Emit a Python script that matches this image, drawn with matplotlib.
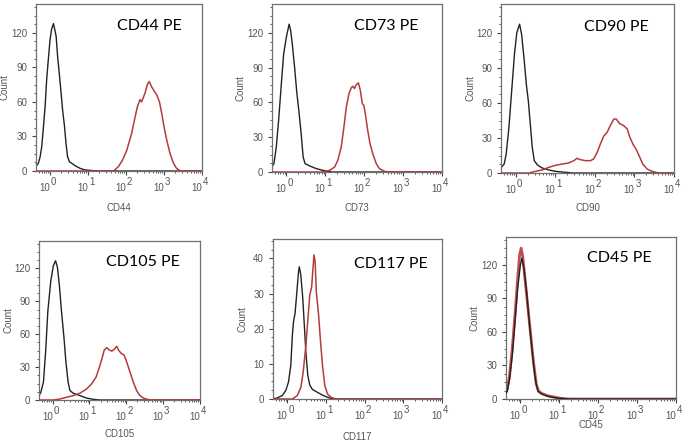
import numpy as np
import matplotlib
matplotlib.use("Agg")
import matplotlib.pyplot as plt
from matplotlib.ticker import LogLocator, MultipleLocator, NullFormatter

plt.rcParams['font.family'] = ['Liberation Sans', 'DejaVu Sans']

# marker names
markers = ['CD44', 'CD73', 'CD90', 'CD105', 'CD117', 'CD45']

# isotype control curves: log10 intensity and count
ctrl_logx = [
    [-0.35, -0.31, -0.26, -0.22, -0.18, -0.13, -0.09, -0.04, 0.0, 0.04, 0.09, 0.11, 0.16, 0.20,
     0.25, 0.29, 0.33, 0.38, 0.42, 0.46, 0.51, 0.57, 0.66, 0.79, 0.92, 1.14, 1.32, 4.0],
    [-0.38, -0.32, -0.26, -0.20, -0.13, -0.07, 0.0, 0.07, 0.11, 0.15, 0.21, 0.27, 0.32, 0.38,
     0.43, 0.48, 0.60, 0.77, 0.94, 1.11, 1.20, 4.0],
    [-0.36, -0.29, -0.24, -0.17, -0.10, -0.03, 0.03, 0.10, 0.15, 0.21, 0.27, 0.32, 0.37, 0.42,
     0.47, 0.55, 0.67, 0.84, 1.01, 1.26, 1.43, 4.0],
    [-0.37, -0.32, -0.25, -0.19, -0.13, -0.05, 0.02, 0.08, 0.13, 0.18, 0.24, 0.31, 0.36, 0.42,
     0.47, 0.56, 0.74, 0.92, 1.10, 1.29, 4.0],
    [-0.39, -0.26, -0.13, -0.04, 0.03, 0.09, 0.13, 0.16, 0.20, 0.24, 0.29, 0.31, 0.35, 0.40,
     0.44, 0.48, 0.53, 0.58, 0.65, 0.78, 0.91, 1.04, 1.17, 4.0],
    [-0.41, -0.34, -0.28, -0.21, -0.14, -0.07, 0.0, 0.04, 0.09, 0.16, 0.22, 0.29, 0.34, 0.40,
     0.45, 0.53, 0.65, 0.78, 0.95, 1.12, 1.29, 4.0],
]
ctrl_count = [
    [5, 6.5, 12.5, 21, 36, 56, 79, 99, 114, 123, 128, 125, 117, 99,
     82, 68, 53, 39, 24, 12.5, 8, 6.7, 4.6, 2.3, 0.9, 0.3, 0, 0],
    [4.3, 7.2, 21.6, 44.6, 76, 102, 116.6, 127.6, 122, 111, 90.7, 67.7, 53, 33,
     13, 7.2, 5.2, 2.9, 1.4, 0.3, 0, 0],
    [4.9, 7.7, 16, 39, 70.6, 102, 120.6, 127.7, 119, 99, 76, 62, 42, 22,
     10.6, 6.9, 4.3, 2.6, 1.4, 0.6, 0, 0],
    [4, 7, 16.3, 44, 81, 108.6, 122.5, 127, 121, 105.5, 81, 56, 34.8, 16.3,
     8.6, 6.2, 4, 1.8, 0.6, 0, 0],
    [0, 0.3, 1, 2.4, 4.8, 9.5, 18, 22, 24.3, 29.5, 36.2, 37.6, 35.2, 28.6,
     21, 13.3, 6.7, 4, 2.7, 1.9, 1.1, 0.5, 0, 0],
    [3, 7, 17.5, 38.6, 68.7, 99, 120, 126, 117, 96, 71.8, 47.6, 29.5, 14.5,
     7, 4.8, 3, 1.8, 0.9, 0.3, 0, 0],
]

# PE-stained curves: log10 intensity and count
pe_logx = [
    [-0.35, 1.67, 1.80, 1.91, 2.02, 2.15, 2.24, 2.30, 2.37, 2.41, 2.50, 2.56, 2.61, 2.68, 2.72,
     2.81, 2.88, 2.94, 3.00, 3.07, 3.16, 3.25, 3.33, 3.42, 3.55, 4.0],
    [-0.38, 0.94, 1.11, 1.24, 1.32, 1.41, 1.48, 1.54, 1.61, 1.67, 1.71, 1.75, 1.79, 1.85, 1.90,
     1.95, 1.99, 2.03, 2.09, 2.15, 2.22, 2.31, 2.39, 2.52, 2.65, 4.0],
    [-0.36, 0.34, 0.50, 0.67, 0.84, 1.01, 1.18, 1.34, 1.47, 1.55, 1.64, 1.76, 1.89, 1.97, 2.06,
     2.14, 2.23, 2.31, 2.39, 2.48, 2.54, 2.62, 2.73, 2.82, 2.87, 2.96, 3.04, 3.13, 3.21, 3.32,
     3.45, 3.61, 4.0],
    [-0.37, 0.02, 0.20, 0.38, 0.56, 0.74, 0.92, 1.06, 1.18, 1.27, 1.34, 1.40, 1.47, 1.54, 1.61,
     1.68, 1.74, 1.79, 1.86, 1.94, 2.01, 2.10, 2.19, 2.28, 2.37, 2.48, 2.64, 4.0],
    [-0.39, 0.13, 0.26, 0.35, 0.41, 0.48, 0.54, 0.58, 0.63, 0.67, 0.69, 0.72, 0.75, 0.81, 0.86,
     0.91, 0.97, 1.04, 1.13, 1.26, 4.0],
    [-0.41, -0.34, -0.28, -0.21, -0.14, -0.07, -0.02, 0.02, 0.06, 0.10, 0.17, 0.24, 0.31, 0.36,
     0.41, 0.47, 0.56, 0.69, 0.86, 1.03, 1.25, 4.0],
]
pe_count = [
    [0, 0, 3.8, 9.6, 18, 33, 47, 56, 62, 60, 67.6, 75, 77.7, 72.8, 70.5,
     66, 60, 50, 38.6, 27, 15, 6.7, 2.3, 0.3, 0, 0],
    [0, 0, 1.4, 4.3, 10, 21.6, 39, 56, 67.7, 72.9, 74, 72, 75, 77, 70.6,
     59, 57.6, 50, 36, 24.5, 15.8, 7.2, 2.9, 0.6, 0, 0],
    [0, 0, 1.4, 2.6, 4.9, 6.6, 7.7, 8.6, 10.6, 12.6, 11.4, 10.6, 10.6, 12, 17.7,
     24.9, 32, 34.9, 40.6, 46.3, 46.3, 42.6, 40.6, 37.7, 32, 24.9, 20.6, 14, 7.7, 3.4,
     1.4, 0, 0],
    [0, 0, 0.9, 2.5, 4, 6.2, 10, 14.8, 21, 30, 37.8, 45.5, 47.7, 45.5, 44.6,
     46.5, 49, 45.5, 42.5, 41, 34.8, 25.5, 16.3, 8.6, 4, 1.5, 0, 0],
    [0, 0, 1, 3.3, 7.6, 15.2, 23.8, 29.5, 31.9, 38, 41, 39, 30.5, 23.8, 16.2,
     9.5, 3.8, 1.4, 0.5, 0, 0],
    [3.9, 8.4, 20.5, 44.6, 74.8, 108, 129, 135, 127.5, 114, 90, 65.7, 41.6, 26.5,
     13, 6.9, 4.8, 3, 1.8, 0.6, 0, 0],
]

y_max = [145, 145, 145, 145, 45.5, 145]
y_step = [30, 30, 30, 30, 10, 30]
decades = [0, 1, 2, 3, 4]

# axes boxes in pixels: left, right, top, bottom
boxes = [(36, 202, 4, 171), (272, 442, 4, 172), (501, 674, 4, 173),
         (39, 200, 241, 400), (273, 442, 239, 399), (506, 676, 237, 399)]
title_pos = [(117, 26), (354, 26), (584, 27), (106, 262), (354, 264), (587, 258)]
xlabel_drop = [36, 35, 34, 33, 37, 25]

W, H = 685, 443
fig = plt.figure(figsize=(W / 100, H / 100), dpi=100)

grey = '#555555'
red = '#b23c3c'

for i, name in enumerate(markers):
    l, r, t, b = boxes[i]
    w_px, h_px = r - l, b - t
    ax = fig.add_axes([l / W, 1 - b / H, w_px / W, h_px / H])
    cx = 10 ** np.array(ctrl_logx[i])
    px = 10 ** np.array(pe_logx[i])
    if name == 'CD45':
        ax.plot(px, pe_count[i], color='#c0504d', lw=2.0, zorder=2)
        ax.plot(cx, ctrl_count[i], color='#222222', lw=1.0, zorder=3)
    else:
        ax.plot(cx, ctrl_count[i], color='#222222', lw=1.0, zorder=2)
        ax.plot(px, pe_count[i], color=red, lw=1.1, zorder=3)

    ax.set_xscale('log')
    ax.set_xlim(10 ** -0.37, 1e4)
    ax.set_ylim(0, y_max[i])
    ax.set_xticks([10.0 ** k for k in decades])
    ax.set_xticklabels(['10'] * len(decades))
    for lab in ax.get_xticklabels():
        lab.set_ha('right')
    for k in decades:
        ax.annotate(str(k), xy=(10.0 ** k, 0), xycoords=('data', 'axes fraction'),
                    xytext=(0.6, -4.2), textcoords='offset points',
                    ha='left', va='top', fontsize=7, color=grey, annotation_clip=False)
    ax.xaxis.set_minor_locator(LogLocator(base=10, subs=np.arange(2, 10)))
    ax.xaxis.set_minor_formatter(NullFormatter())
    ax.yaxis.set_major_locator(MultipleLocator(y_step[i]))
    ax.yaxis.set_minor_locator(MultipleLocator(y_step[i] / 4))

    ax.tick_params(which='major', length=3, width=0.8, color='#444444',
                   labelsize=7, labelcolor=grey)
    ax.tick_params(axis='x', which='major', pad=5.5)
    ax.tick_params(which='minor', length=1.6, width=0.6, color='#444444')
    for s in ax.spines.values():
        s.set_color('#707070')
        s.set_linewidth(0.9)

    ax.set_xlabel(name, fontsize=7, color=grey)
    ax.xaxis.set_label_coords(0.5, -(xlabel_drop[i] - 4) / h_px)
    ax.set_ylabel('Count', fontsize=7, color=grey)
    ax.yaxis.set_label_coords(-26 / w_px, 0.5)

    tx, ty = title_pos[i]
    fig.text(tx / W, 1 - ty / H, name + ' PE', fontsize=11.5, family='Lato',
             color='black', ha='left', va='center')

fig.savefig('out.png', dpi=100)
